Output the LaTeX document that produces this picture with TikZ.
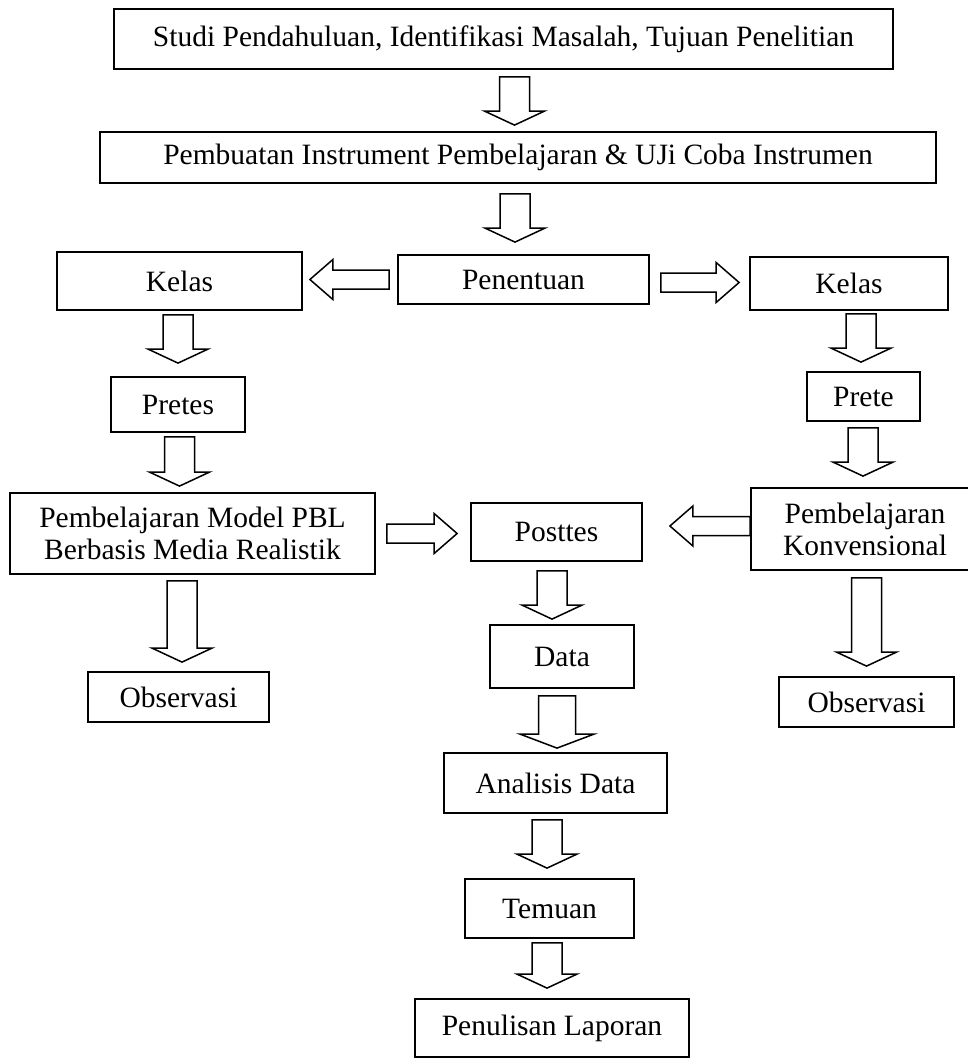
\documentclass[tikz,border=0pt]{standalone}
\usepackage{fontspec}
\setmainfont{Liberation Serif}
\usetikzlibrary{calc}

% panah blok ke bawah: #1 lebar batang, #2 pangkal, #3 ujung
\newcommand{\vblock}[3][30]{%
  \draw[blockarr] let \p1=#2, \p2=#3 in
    (\x2-#1/2,\y1) -- (\x2-#1/2,\y2+14) -- (\x2-#1,\y2+14) -- (\x2,\y2)
    -- (\x2+#1,\y2+14) -- (\x2+#1/2,\y2+14) -- (\x2+#1/2,\y1) -- cycle;}
% panah blok mendatar: #1 pangkal, #2 ujung
\newcommand{\hblock}[2]{%
  \draw[blockarr] let \p1=#1, \p2=#2, \n1={\x2-sign(\x2-\x1)*23} in
    (\x1,\y1+9.5) -- (\n1,\y1+9.5) -- (\n1,\y1+20) -- (\x2,\y1)
    -- (\n1,\y1-20) -- (\n1,\y1-9.5) -- (\x1,\y1-9.5) -- cycle;}

\begin{document}
\begin{tikzpicture}[
  x=1pt, y=1pt,
  every node/.style={font=\fontsize{29.5}{32}\selectfont, align=center},
  box/.style={rectangle, draw=black, line width=1.8pt, inner sep=0pt},
  blockarr/.style={draw=black, line width=1.5pt, fill=white, line join=miter}
]
\useasboundingbox (0,0) rectangle (967,-1059);

% alur utama
\node[box, minimum width=779, minimum height=60] (studi) at (503.5,-39) {Studi Pendahuluan, Identifikasi Masalah, Tujuan Penelitian};
\node[box, minimum width=836, minimum height=51] (instr) at (518,-157.5) {Pembuatan Instrument Pembelajaran \& UJi Coba Instrumen};
\node[box, minimum width=251, minimum height=49] (pen) at (523.5,-279.5) {Penentuan};

% kelas kiri
\node[box, minimum width=245, minimum height=58] (kelasL) at (179.5,-281) {Kelas};
\node[box, minimum width=134, minimum height=55] (pretesL) at (178,-404.5) {Pretes};
\node[box, minimum width=365, minimum height=81] (pbl) at (192.5,-533.5) {Pembelajaran Model PBL\\Berbasis Media Realistik};
\node[box, minimum width=181, minimum height=50] (obsL) at (178.5,-697) {Observasi};

% kelas kanan
\node[box, minimum width=198, minimum height=53] (kelasR) at (849,-283.5) {Kelas};
\node[box, minimum width=113, minimum height=49] (preteR) at (863.5,-396.5) {Prete};
\node[box, minimum width=228, minimum height=82] (konv) at (865,-529) {Pembelajaran\\Konvensional};
\node[box, minimum width=175, minimum height=50] (obsR) at (866.5,-702) {Observasi};

% tengah
\node[box, minimum width=171, minimum height=58] (posttes) at (556.5,-532) {Posttes};
\node[box, minimum width=144, minimum height=63] (data) at (562,-656.5) {Data};
\node[box, minimum width=223, minimum height=60] (analisis) at (555.5,-783) {Analisis Data};
\node[box, minimum width=169, minimum height=59] (temuan) at (549.5,-908.5) {Temuan};
\node[box, minimum width=274, minimum height=58] (lapor) at (552,-1028) {Penulisan Laporan};

% panah ke bawah
\vblock{($(studi.south)+(0,-7)$)}{($(instr.north)+(-3.5,6)$)}
\vblock{($(instr.south)+(0,-10)$)}{($(pen.north)+(-8.5,12)$)}
\vblock{($(kelasL.south)+(0,-4)$)}{($(pretesL.north)+(0,13)$)}
\vblock{($(pretesL.south)+(0,-4)$)}{($(pbl.north)+(-13,6)$)}
\vblock{($(pbl.south)+(0,-6)$)}{($(obsL.north)+(3.5,9)$)}
\vblock{($(kelasR.south)+(0,-3)$)}{($(preteR.north)+(-2.5,9)$)}
\vblock{($(preteR.south)+(0,-6)$)}{($(konv.north)+(-2,11)$)}
\vblock{($(konv.south)+(0,-7)$)}{($(obsR.north)+(0,10)$)}
\vblock{($(posttes.south)+(0,-9)$)}{($(data.north)+(-10,5)$)}
\vblock[37]{($(data.south)+(0,-7)$)}{($(analisis.north)+(1.5,4)$)}
\vblock{($(analisis.south)+(0,-6)$)}{($(temuan.north)+(-2.5,10)$)}
\vblock{($(temuan.south)+(0,-4)$)}{($(lapor.north)+(-5,10)$)}

% panah mendatar
\hblock{($(pen.west)+(-8,0)$)}{($(kelasL.east)+(7,0)$)}
\hblock{($(pen.east)+(11,-3)$)}{($(kelasR.west)+(-10,0)$)}
\hblock{($(pbl.east)+(11,0)$)}{($(posttes.west)+(-13,0)$)}
\hblock{($(konv.west)+(0,3)$)}{($(posttes.east)+(27,0)$)}

\end{tikzpicture}
\end{document}
